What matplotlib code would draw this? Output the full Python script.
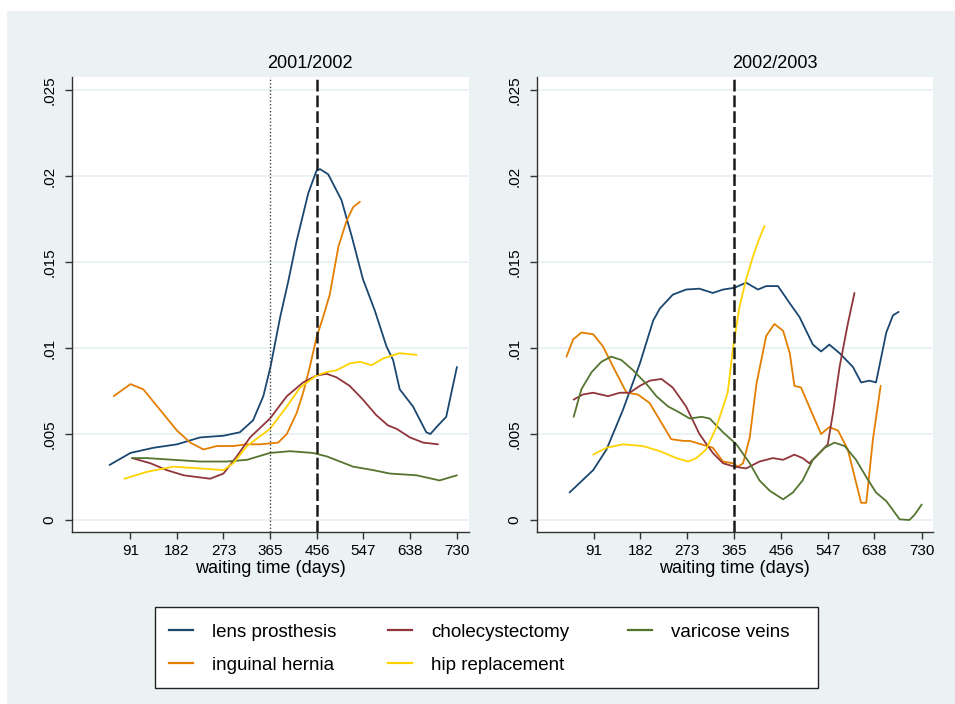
import matplotlib
matplotlib.use("Agg")
import matplotlib.pyplot as plt
from matplotlib.patches import Rectangle
from matplotlib.lines import Line2D

plt.rcParams['font.family'] = ['Liberation Sans', 'DejaVu Sans']

# ---- data: density of waiting time by procedure ----
periods = ["2001/2002", "2002/2003"]
procedures = ["lens prosthesis", "cholecystectomy", "varicose veins",
              "inguinal hernia", "hip replacement"]
colors = {"lens prosthesis": "#1a476f", "cholecystectomy": "#90353b",
          "varicose veins": "#55752f", "inguinal hernia": "#e37e00",
          "hip replacement": "#ffd200"}

# 2001/2002
lens_01_days = [50, 91, 136, 182, 227, 273, 305, 331, 351, 365, 384, 400, 416, 439, 455, 462,
                478, 504, 524, 546, 569, 592, 605, 618, 631, 644, 670, 678, 693, 709, 730]
lens_01_vals = [.0032, .0039, .0042, .0044, .0048, .0049, .0051, .0058, .0072, .0089, .0118,
                .0139, .0162, .0190, .0203, .0204, .0201, .0186, .0165, .0140, .0122, .0101,
                .0093, .0076, .0071, .0066, .0051, .0050, .0055, .0060, .0089]

hernia_01_days = [58, 91, 116, 149, 182, 208, 234, 260, 292, 319, 345, 380, 397, 416, 429,
                  442, 455, 468, 481, 498, 514, 527, 540]
hernia_01_vals = [.0072, .0079, .0076, .0064, .0052, .0045, .0041, .0043, .0043, .0044, .0044,
                  .0045, .0050, .0062, .0074, .0089, .0106, .0118, .0131, .0159, .0174, .0182,
                  .0185]

chole_01_days = [94, 130, 162, 195, 221, 247, 273, 299, 325, 364, 397, 429, 455, 475, 494,
                 520, 546, 572, 595, 612, 638, 664, 693]
chole_01_vals = [.0036, .0033, .0029, .0026, .0025, .0024, .0027, .0037, .0048, .0059, .0072,
                 .0080, .0084, .0085, .0083, .0078, .0070, .0061, .0055, .0053, .0048, .0045,
                 .0044]

varic_01_days = [94, 123, 175, 227, 279, 319, 364, 403, 448, 475, 501, 527, 566, 599, 651,
                 696, 730]
varic_01_vals = [.0036, .0036, .0035, .0034, .0034, .0035, .0039, .0040, .0039, .0037, .0034,
                 .0031, .0029, .0027, .0026, .0023, .0026]

hip_01_days = [79, 123, 175, 227, 273, 292, 319, 364, 397, 423, 455, 475, 494, 520, 540, 563,
               586, 618, 651]
hip_01_vals = [.0024, .0028, .0031, .0030, .0029, .0033, .0043, .0053, .0066, .0077, .0084,
               .0086, .0087, .0091, .0092, .0090, .0094, .0097, .0096]

# 2002/2003
lens_02_days = [44, 90, 116, 148, 181, 207, 220, 245, 271, 297, 323, 343, 365, 388, 411, 427,
                450, 473, 492, 518, 534, 550, 570, 596, 612, 628, 641, 661, 674, 685]
lens_02_vals = [.0016, .0029, .0041, .0064, .0091, .0116, .0123, .0131, .0134, .01345, .0132,
                .0134, .0135, .0138, .0134, .0136, .0136, .0126, .0118, .0102, .0098, .0102,
                .0097, .0089, .0080, .0081, .0080, .0109, .0119, .0121]

hernia_02_days = [38, 51, 67, 90, 109, 129, 155, 177, 200, 220, 242, 265, 278, 301, 323, 343,
                  362, 372, 382, 395, 408, 427, 443, 460, 473, 482, 495, 518, 534, 550, 567,
                  586, 612, 622, 635, 650]
hernia_02_vals = [.0095, .0105, .0109, .0108, .0101, .0089, .0074, .0073, .0068, .0058, .0047,
                  .0046, .0046, .0044, .0042, .0034, .0033, .0031, .0033, .0048, .0079, .0107,
                  .0114, .0110, .0097, .0078, .0077, .0061, .0050, .0054, .0052, .0041, .0010,
                  .0010, .0047, .0078]

chole_02_days = [52, 70, 90, 119, 142, 161, 181, 200, 223, 245, 271, 297, 323, 343, 365, 388,
                 414, 440, 460, 482, 498, 511, 531, 547, 557, 570, 586, 599]
chole_02_vals = [.0070, .0073, .0074, .0072, .0074, .0074, .0078, .0081, .0082, .0077, .0066,
                 .0050, .0039, .0033, .0031, .0030, .0034, .0036, .0035, .0038, .0036, .0033,
                 .0039, .0044, .0062, .0089, .0114, .0132]

varic_02_days = [52, 67, 87, 106, 125, 145, 168, 194, 213, 236, 255, 278, 301, 317, 343, 369,
                 395, 414, 434, 460, 479, 498, 518, 541, 560, 580, 602, 622, 641, 661, 687,
                 706, 716, 730]
varic_02_vals = [.0060, .0076, .0086, .0092, .0095, .0093, .0087, .0079, .0072, .0066, .0063,
                 .0059, .0060, .0059, .0051, .0044, .0033, .0023, .0017, .0012, .0016, .0023,
                 .0035, .0042, .0045, .0043, .0035, .0025, .0016, .0011, .00004, .0000, .0003,
                 .0009]

hip_02_days = [90, 116, 148, 187, 220, 252, 275, 291, 310, 330, 352, 362, 375, 388, 401, 414,
               424]
hip_02_vals = [.0038, .0042, .0044, .0043, .0040, .0036, .0034, .0036, .0041, .0054, .0074,
               .0099, .0124, .0140, .0153, .0164, .0171]

series = {
    "2001/2002": {
        "lens prosthesis": (lens_01_days, lens_01_vals),
        "inguinal hernia": (hernia_01_days, hernia_01_vals),
        "cholecystectomy": (chole_01_days, chole_01_vals),
        "varicose veins": (varic_01_days, varic_01_vals),
        "hip replacement": (hip_01_days, hip_01_vals),
    },
    "2002/2003": {
        "lens prosthesis": (lens_02_days, lens_02_vals),
        "inguinal hernia": (hernia_02_days, hernia_02_vals),
        "cholecystectomy": (chole_02_days, chole_02_vals),
        "varicose veins": (varic_02_days, varic_02_vals),
        "hip replacement": (hip_02_days, hip_02_vals),
    },
}
draw_order = ["lens prosthesis", "inguinal hernia", "cholecystectomy",
              "varicose veins", "hip replacement"]

xticks = [91, 182, 273, 365, 456, 547, 638, 730]
yticks = [0, .005, .01, .015, .02, .025]
ytick_labels = ["0", ".005", ".01", ".015", ".02", ".025"]
dashed_at = {"2001/2002": 456, "2002/2003": 365}
dotted_at = {"2001/2002": 365}

# ---- figure ----
W, H = 955, 704
fig = plt.figure(figsize=(W / 100, H / 100), dpi=100, facecolor="white")
bg = "#eaf2f3"
fig.patches.append(Rectangle((7 / W, 0), 1 - 7 / W, 1 - 11 / H,
                             transform=fig.transFigure, facecolor=bg,
                             edgecolor="none", zorder=-10))

axes_px = {"2001/2002": (72, 469, (-23.5, 753.6), 310),
           "2002/2003": (536.5, 933, (-20.4, 752.0), 775)}
top_px, bot_px = 77.3, 531.7

for period in periods:
    x0, x1, xlim, title_x = axes_px[period]
    ax = fig.add_axes([x0 / W, 1 - bot_px / H, (x1 - x0) / W, (bot_px - top_px) / H])
    ax.set_facecolor("white")
    for side in ("top", "right"):
        ax.spines[side].set_visible(False)
    for side in ("left", "bottom"):
        ax.spines[side].set_color("#333333")
        ax.spines[side].set_linewidth(1.0)

    for y in yticks:
        ax.axhline(y, color=bg, lw=1.4, zorder=1)

    for name in draw_order:
        d, v = series[period][name]
        ax.plot(d, v, color=colors[name], lw=1.3, zorder=3,
                solid_joinstyle="round", solid_capstyle="round")

    ax.axvline(dashed_at[period], color="#1a1a1a", lw=1.8, dashes=(4.7, 1.6), zorder=4)
    if period in dotted_at:
        ax.axvline(dotted_at[period], color="#444444", lw=1.0, dashes=(1, 1.5), zorder=4)

    ax.set_xlim(*xlim)
    ax.set_ylim(-0.00068, 0.02574)
    ax.set_xticks(xticks)
    ax.set_xticklabels([str(t) for t in xticks])
    ax.set_yticks(yticks)
    ax.set_yticklabels(ytick_labels)
    ax.tick_params(axis="both", direction="out", length=5, width=1.0, color="#333333",
                   labelsize=11, labelcolor="black")
    ax.tick_params(axis="y", pad=6)
    ax.tick_params(axis="x", pad=4)
    plt.setp(ax.get_yticklabels(), rotation=90, va="center", ha="right")
    ax.set_xlabel("waiting time (days)", fontsize=13, labelpad=1)

    fig.text(title_x / W, 1 - 63 / H, period, ha="center", va="center", fontsize=13)

# legend box with three key columns
box_l, box_t, box_r, box_b = 155, 607, 818, 688
fig.patches.append(Rectangle((box_l / W, 1 - box_b / H), (box_r - box_l) / W,
                             (box_b - box_t) / H, transform=fig.transFigure,
                             facecolor="white", edgecolor="#222222", lw=1.0, zorder=1))

legend_columns = [["lens prosthesis", "inguinal hernia"],
                  ["cholecystectomy", "hip replacement"],
                  ["varicose veins"]]
column_x = [155, 374, 614]
for names, cx in zip(legend_columns, column_x):
    hs = [Line2D([], [], color=colors[n], lw=1.6) for n in names]
    lg = fig.legend(hs, names, ncol=1, loc="upper left",
                    bbox_to_anchor=(cx / W, 1 - 610 / H),
                    frameon=False, fontsize=13.5,
                    handlelength=1.33, handletextpad=1.0,
                    labelspacing=0.85, borderpad=0.72, borderaxespad=0.0)
    lg.set_zorder(2)

fig.savefig("out.png", dpi=100, facecolor=fig.get_facecolor())
